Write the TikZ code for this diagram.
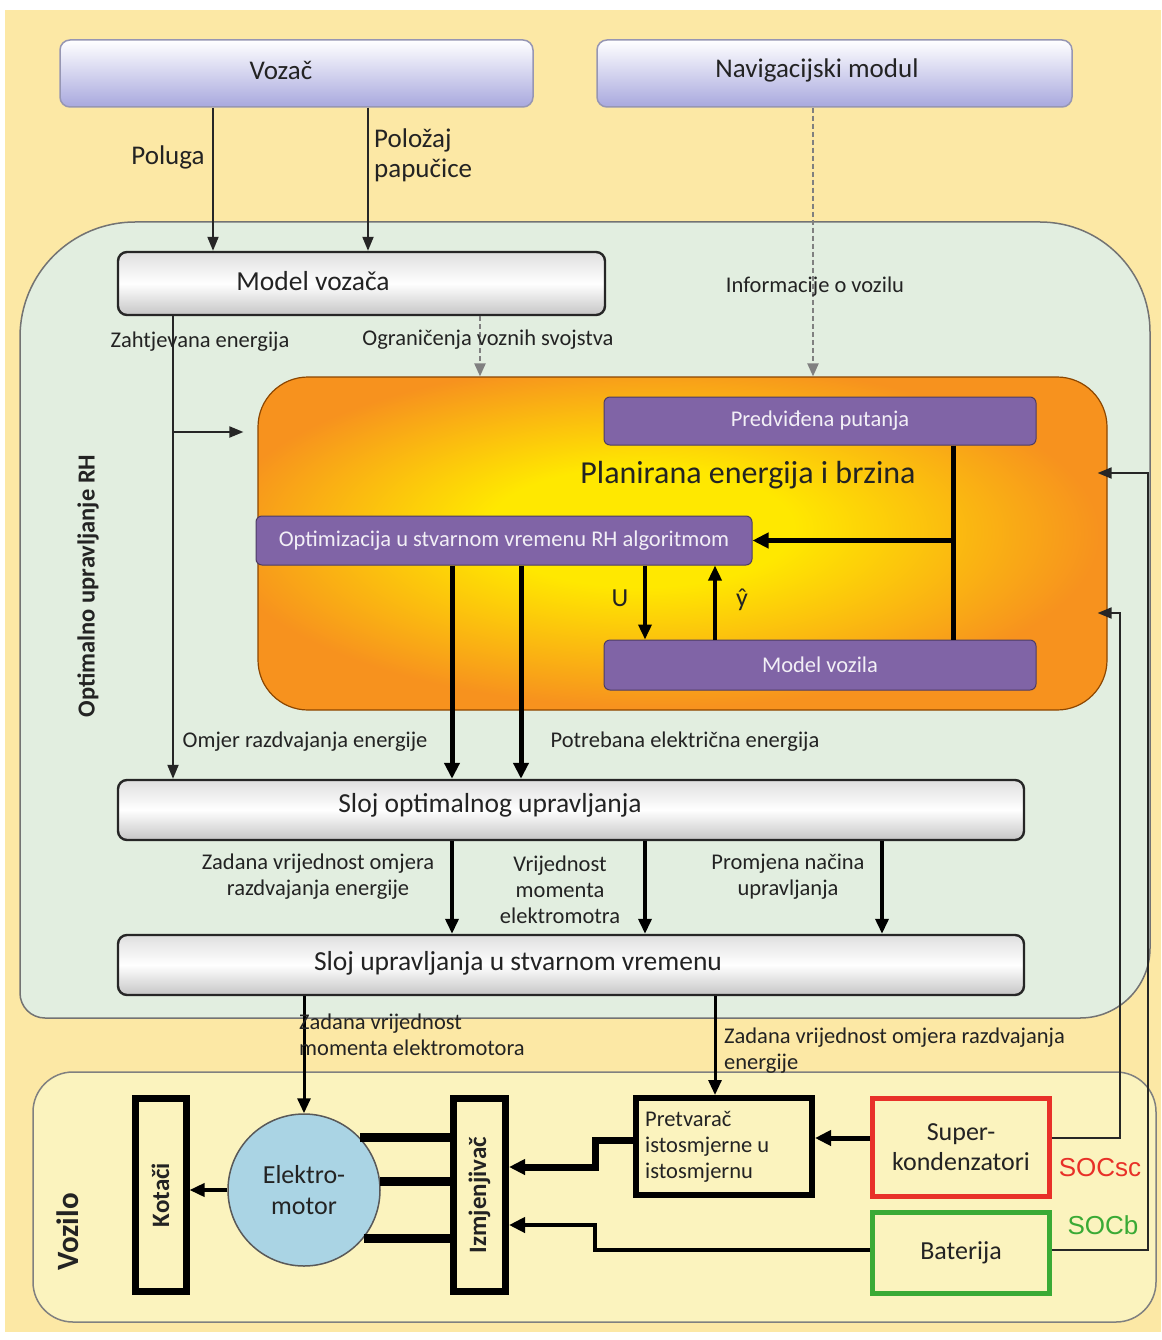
\documentclass[tikz,border=0pt]{standalone}
\usepackage{fontspec}
\setmainfont{Carlito}
\newfontfamily\socfont{Liberation Sans}
\usetikzlibrary{arrows.meta,calc}

\definecolor{bgyellow}{RGB}{252,232,165}
\definecolor{mint}{RGB}{226,238,224}
\definecolor{carlight}{RGB}{251,243,190}
\definecolor{lavender}{RGB}{168,168,222}
\definecolor{violetbox}{RGB}{128,100,166}
\definecolor{shyellow}{RGB}{255,232,0}
\definecolor{shorange}{RGB}{247,146,30}
\definecolor{skyblue}{RGB}{170,212,228}
\definecolor{scred}{RGB}{232,48,40}
\definecolor{batgreen}{RGB}{58,170,53}
\definecolor{txt}{RGB}{35,35,35}

\pgfdeclareradialshading{glow}{\pgfpoint{-3bp}{3bp}}{color(0bp)=(shyellow); color(9bp)=(shyellow); color(26bp)=(shorange); color(50bp)=(shorange)}

\begin{document}
\begin{tikzpicture}[x=1pt,y=-1pt,
  lbl/.style={font=\fontsize{22.5}{26}\selectfont, text=txt, inner sep=0pt, align=center},
  toplbl/.style={font=\fontsize{27}{30}\selectfont, text=txt, inner sep=0pt, align=left},
  boxtxt/.style={font=\fontsize{27.5}{32}\selectfont, text=txt, inner sep=0pt},
  topbox/.style={rounded corners=10, top color=white, bottom color=lavender, draw=lavender!55!gray, line width=1.5, minimum height=67},
  layerbox/.style={rounded corners=9, top color=gray!25, bottom color=gray!45, middle color=white, draw=black!85, line width=2.4, minimum height=60},
  violet/.style={rounded corners=6, fill=violetbox, draw=violetbox!60!black, line width=1, text=white!90!violetbox, font=\fontsize{22.5}{26}\selectfont, minimum height=48},
  part/.style={draw=black, line width=7, inner sep=0pt},
  parttxt/.style={rotate=90, font=\bfseries\fontsize{25}{28}\selectfont, text=txt},
  arr/.style={line width=2, draw=black!85, -{Triangle[length=14pt,width=11pt]}},
  midarr/.style={line width=3.5, -{Triangle[length=15pt,width=13pt]}},
  fatarr/.style={line width=5, -{Triangle[length=16pt,width=15pt]}},
  dasharr/.style={line width=2.2, draw=gray, dash pattern=on 5pt off 3pt, -{Triangle[length=13pt,width=11pt]}}]

\useasboundingbox (0,0) rectangle (1161,1340);
\fill[white] (0,0) rectangle (1161,1340);
\fill[bgyellow] (5,10) rectangle (1161,1332);

\draw[fill=mint, draw=black!55, line width=1.5] (20,993) -- (20,337) arc (180:270:115) -- (1040,222) arc (270:360:110) -- (1150,948) arc (0:90:70) -- (45,1018) arc (90:180:25) -- cycle;
\draw[fill=carlight, draw=black!50, line width=1.5, rounded corners=40] (33,1072) rectangle (1156,1322);

\node[topbox, minimum width=473] (vozac) at (296.5,73.5) {};
\node[toplbl] at (281,70) {Vozač};
\node[topbox, minimum width=475] (navig) at (834.5,73.5) {};
\node[toplbl] at (817,70) {Navigacijski modul};

\node[layerbox, minimum width=487, minimum height=63] (modelvoz) at (361.5,283.5) {};
\node[boxtxt] at (313,281) {Model vozača};

\node[shade, shading=glow, draw=orange!55!black, line width=1.2, rounded corners=50, minimum width=849, minimum height=333] (plan) at (682.5,543.5) {};
\node[font=\fontsize{32}{36}\selectfont, text=txt] (plantxt) at (748,475) {Planirana energija i brzina};
\node[violet, minimum width=432] (predv) at (820,421) {Predviđena putanja};
\node[violet, minimum width=496, minimum height=49] (optim) at (504,540.5) {Optimizacija u stvarnom vremenu RH algoritmom};
\node[violet, minimum width=432, minimum height=50] (modelvozila) at (820,665) {Model vozila};

\node[layerbox, minimum width=906] (sloj1) at (571,810) {};
\node[boxtxt] at (490,805) {Sloj optimalnog upravljanja};
\node[layerbox, minimum width=906] (sloj2) at (571,965) {};
\node[boxtxt] at (518,963) {Sloj upravljanja u stvarnom vremenu};

\node[rotate=90, font=\bfseries\fontsize{24.5}{28}\selectfont, text=txt] (optlbl) at (88,586) {Optimalno upravljanje RH};
\node[rotate=90, font=\bfseries\fontsize{31}{34}\selectfont, text=txt] (vozlbl) at (68,1232) {Vozilo};

\node[part, minimum width=51, minimum height=193] (kotaci) at (160.5,1195) {};
\node[parttxt] at (kotaci) {Kotači};
\node[part, minimum width=52, minimum height=193] (izmj) at (479.5,1195) {};
\node[parttxt] at (izmj) {Izmjenjivač};
\node[circle, draw=gray!70!black, line width=1.5, fill=skyblue, minimum size=152, inner sep=0pt, align=center, font=\fontsize{26}{31}\selectfont, text=txt] (elmotor) at (304,1190) {Elektro-\\motor};
\node[draw=black, line width=6, minimum width=176, minimum height=97, inner sep=0pt] (pretvarac) at (724,1146.5) {};
\node[lbl, anchor=west, align=left] at (645,1147) {Pretvarač\\istosmjerne u\\istosmjernu};
\node[draw=scred, line width=5, minimum width=177, minimum height=98, align=center, font=\fontsize{26}{30}\selectfont, text=txt] (superk) at (961,1147.5) {Super-\\kondenzatori};
\node[draw=batgreen, line width=5, minimum width=177, minimum height=81, font=\fontsize{26}{30}\selectfont, text=txt] (bat) at (961,1253) {Baterija};
\node[font=\socfont\fontsize{26}{30}\selectfont, text=scred] (socsc) at (1100,1168) {SOCsc};
\node[font=\socfont\fontsize{26}{30}\selectfont, text=batgreen] (socb) at (1103,1225) {SOCb};

\draw[arr] (213,0 |- vozac.south) -- (213,0 |- modelvoz.north);
\draw[arr] (368,0 |- vozac.south) -- (368,0 |- modelvoz.north);
\node[toplbl] at (168,157) {Poluga};
\node[toplbl, anchor=west] at (374,155) {Položaj\\papučice};

\draw[arr] (173,0 |- modelvoz.south) -- (173,0 |- sloj1.north);
\coordinate (branch) at (173,432);
\draw[arr, shorten >=14] (branch) -- (plan.west |- branch);
\draw[dasharr] (480,0 |- modelvoz.south) -- (480,0 |- plan.north);
\draw[dasharr] (813,0 |- navig.south) -- (813,0 |- plan.north);
\node[lbl] at (200,342) {Zahtjevana energija};
\node[lbl] at (488,340) {Ograničenja voznih svojstva};
\node[lbl] at (815,287) {Informacije o vozilu};

\draw[line width=5] (953,0 |- predv.south) -- (953,0 |- modelvozila.north);
\draw[fatarr] (953,0 |- optim.east) -- (optim.east);
\draw[midarr] (645,0 |- optim.south) -- (645,0 |- modelvozila.north);
\draw[midarr] (715,0 |- modelvozila.north) -- (715,0 |- optim.south);
\node[font=\fontsize{26}{30}\selectfont, text=txt] at (620,598) {U};
\node[font=\fontsize{26}{30}\selectfont, text=txt] at (742,600) {ŷ};

\draw[fatarr] (452,0 |- optim.south) -- (452,0 |- sloj1.north);
\draw[fatarr] (521,0 |- optim.south) -- (521,0 |- sloj1.north);
\node[lbl] at (305,742) {Omjer razdvajanja energije};
\node[lbl] at (685,742) {Potrebana električna energija};

\foreach \px in {452,645,882}
  \draw[midarr] (\px,0 |- sloj1.south) -- (\px,0 |- sloj2.north);
\node[lbl] at (318,877) {Zadana vrijednost omjera\\razdvajanja energije};
\node[lbl] at (560,890) {Vrijednost\\momenta\\elektromotra};
\node[lbl] at (788,877) {Promjena načina\\upravljanja};

\draw[midarr, line width=3] (elmotor.north |- sloj2.south) -- (elmotor.north);
\draw[midarr, line width=3] (715,0 |- sloj2.south) -- (715,0 |- pretvarac.north);
\node[lbl, anchor=west, align=left] at (299,1035) {Zadana vrijednost\\momenta elektromotora};
\node[lbl, anchor=west, align=left] at (724,1051) {Zadana vrijednost omjera razdvajanja\\energije};

\draw[midarr] (elmotor.west) -- (kotaci.east |- elmotor.west);
\foreach \ang in {43,6,-39}
  \draw[line width=9] (elmotor.\ang) -- (elmotor.\ang -| izmj.west);
\draw[fatarr] (superk.west |- 0,1138) -- (pretvarac.east |- 0,1138);
\draw[fatarr, line width=7] (pretvarac.west |- 0,1140) -- (595,1140) |- (izmj.east |- 0,1167);
\draw[fatarr, line width=4.5] (bat.west |- 0,1250) -- (595,1250) |- (izmj.east |- 0,1225);

\draw[arr, shorten >=-10] (superk.east |- 0,1138) -- (1120,1138) -- (1120,613) -- (plan.east |- 0,613);
\draw[arr, shorten >=-10] (bat.east |- 0,1250) -- (1148,1250) -- (1148,473) -- (plan.east |- 0,473);
\end{tikzpicture}
\end{document}
